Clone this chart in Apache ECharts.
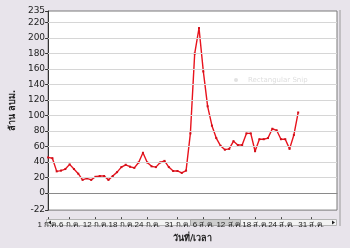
<!DOCTYPE html>
<html><head><meta charset="utf-8">
<script src="https://cdn.jsdelivr.net/npm/echarts@6/dist/echarts.min.js"></script>
<style>html,body{margin:0;padding:0;background:#e8e4eb}#c{width:350px;height:248px}</style>
</head><body><div id="c"></div>
<script>
// months shown on the axis: [name, days]
const months = [['ก.ค.', 31], ['ส.ค.', 31], ['ก.ย.', 6]];
const categories = [];
months.forEach(([m, n]) => { for (let d = 1; d <= n; d++) categories.push(d + ' ' + m); });

// daily values (ล้าน ลบม.) 1 ก.ค. .. 28 ส.ค.
const values = [46,45,28,29,31,37,31,25,17,19,17,21,22,22,17,22,27,33.5,36.5,34,
  32.5,39.5,52,39.5,34.5,33.5,39.5,41.5,33.5,28.5,28.5,26,29,
  77,180,213,157,112,87,71,61,56,57,67,62,62,77,77,54,69.5,69.5,71,83,81,69.5,69.5,57,75,104];

const xTickLabels = ['1 ก.ค.','6 ก.ค.','12 ก.ค.','18 ก.ค.','24 ก.ค.','31 ก.ค.','6 ส.ค.','12 ส.ค.','18 ส.ค.','24 ส.ค.','31 ส.ค.'];
const yTickLabels = [-22,0,20,40,60,80,100,120,140,160,180,200,220,235];
const yGridLines = [20,40,60,80,100,120,140,160,180,200,220];

const FONT = 'Tahoma, "DejaVu Sans", "Noto Sans", sans-serif';
const XFONT = '"Liberation Sans", "Noto Sans", sans-serif';
const showTick = (i, v) => xTickLabels.indexOf(categories[i]) >= 0;

const chart = echarts.init(document.getElementById('c'), null, {renderer: 'canvas'});
chart.setOption({
  backgroundColor: '#e8e4eb',
  animation: false,
  grid: {left: 46, right: 13, top: 11, bottom: 29, show: true, backgroundColor: '#ffffff', borderColor: '#7a7a7a', borderWidth: 1},
  xAxis: [{
    type: 'category', data: categories, boundaryGap: false,
    axisLine: {show: true, lineStyle: {color: '#8a8a8a'}},
    axisTick: {show: false}, axisLabel: {show: false}, splitLine: {show: false}
  }, {
    type: 'category', data: categories, boundaryGap: false, position: 'bottom', offset: 7,
    axisLine: {show: false},
    axisTick: {show: true, interval: showTick, length: 2, lineStyle: {color: '#444'}},
    axisLabel: {show: true, interval: showTick, margin: 4, fontSize: 8, color: '#222', fontFamily: XFONT,
      showMinLabel: true, showMaxLabel: true, hideOverlap: false},
    name: 'วันที่/เวลา', nameLocation: 'middle', nameGap: 16,
    nameTextStyle: {fontSize: 9, fontWeight: 'bold', color: '#222', fontFamily: FONT}
  }],
  yAxis: {
    type: 'value', min: -22, max: 235,
    axisLine: {show: true, lineStyle: {color: '#333'}},
    axisTick: {show: true, length: 3, customValues: yTickLabels, lineStyle: {color: '#333'}},
    axisLabel: {customValues: yTickLabels, fontSize: 9, color: '#222', margin: 3, fontFamily: FONT},
    splitLine: {show: false},
    name: 'ล้าน ลบม.', nameLocation: 'middle', nameGap: 30,
    nameTextStyle: {fontSize: 9, fontWeight: 'bold', color: '#222', fontFamily: FONT}
  },
  series: [{
    type: 'line', data: values, xAxisIndex: 0,
    lineStyle: {color: '#e8131d', width: 1.4},
    itemStyle: {color: '#d0101a'},
    symbol: 'rect', symbolSize: 2, showSymbol: true,
    markLine: {
      silent: true, symbol: 'none', label: {show: false}, animation: false,
      data: yGridLines.map(v => ({yAxis: v, lineStyle: {color: '#d6d6d6', width: 1, type: 'solid'}}))
        .concat([{yAxis: 0, lineStyle: {color: '#8a8a8a', width: 1, type: 'solid'}}])
    },
    z: 3
  }],
  graphic: [
    {type: 'line', shape: {x1: 340, y1: 10, x2: 340, y2: 226}, style: {stroke: '#9a9a9a', lineWidth: 1}},
    {type: 'rect', shape: {x: 46.5, y: 219.5, width: 290, height: 6}, style: {fill: '#f3f3f3', stroke: '#b4b4b4', lineWidth: 1}},
    {type: 'rect', shape: {x: 190.5, y: 219.5, width: 50, height: 6}, style: {fill: '#cdcdcd', stroke: '#a6a6a6', lineWidth: 1}},
    {type: 'polygon', shape: {points: [[48, 222.5], [51, 220.5], [51, 224.5]]}, style: {fill: '#222'}},
    {type: 'polygon', shape: {points: [[335, 222.5], [332, 220.5], [332, 224.5]]}, style: {fill: '#222'}},
    {type: 'circle', shape: {cx: 236, cy: 80, r: 2}, style: {fill: '#e2e2e2'}},
    {type: 'text', x: 248, y: 80, style: {text: 'Rectangular Snip', fill: '#dedede', fontSize: 7, fontFamily: FONT, verticalAlign: 'middle'}}
  ]
});
</script></body></html>
